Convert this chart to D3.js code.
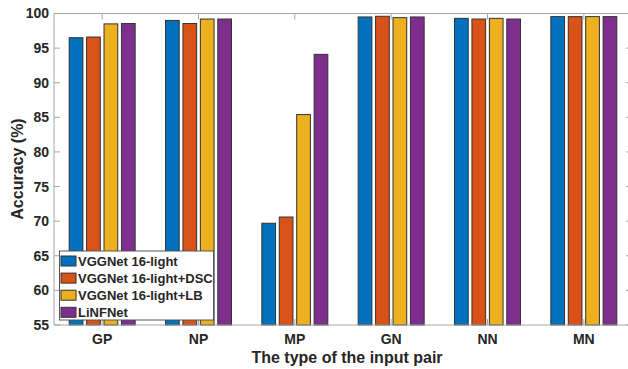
<!DOCTYPE html>
<html lang="en">
<head>
  <meta charset="UTF-8">
  <style>
    body { margin: 0; background: #fff; }
    text { font-family: Arial, "Liberation Sans", sans-serif; font-weight: bold; fill: #262626; }
    .axis-line { stroke: #a6a6a6; stroke-width: 1; fill: none; }
    .bar { stroke: #333; stroke-width: 1; }
  </style>
  <script src="https://d3js.org/d3.v7.min.js"></script>
</head>
<body>
<svg id="chart"></svg>
<script>

var categories = ['GP', 'NP', 'MP', 'GN', 'NN', 'MN'];
var seriesNames = ['VGGNet 16-light', 'VGGNet 16-light+DSC', 'VGGNet 16-light+LB', 'LiNFNet'];
var colors = ['#0072BD', '#D95319', '#EDB120', '#7E2F8E'];
var vggLight    = [96.5, 99.0, 69.7, 99.5, 99.3, 99.55];
var vggLightDsc = [96.6, 98.55, 70.6, 99.6, 99.2, 99.55];
var vggLightLb  = [98.5, 99.2, 85.4, 99.4, 99.3, 99.55];
var linfnet     = [98.55, 99.2, 94.1, 99.5, 99.2, 99.55];
var yTicks = [55, 60, 65, 70, 75, 80, 85, 90, 95, 100];

var series = [vggLight, vggLightDsc, vggLightLb, linfnet];

var size = {width: 628, height: 369};
var plot = {left: 54, right: 632, top: 13.5, bottom: 325};

var svg = d3.select('#chart')
  .attr('width', size.width)
  .attr('height', size.height);

var xScale = d3.scaleBand()
  .domain(categories)
  .range([plot.left, plot.right])
  .paddingInner(0.315)
  .paddingOuter(0.1575);

var xInner = d3.scaleBand()
  .domain(d3.range(series.length))
  .range([0, xScale.bandwidth()])
  .paddingInner(0.213);

var yScale = d3.scaleLinear()
  .domain([55, 100])
  .range([plot.bottom, plot.top]);

// bars
var groups = svg.selectAll('.group')
  .data(categories)
  .enter()
  .append('g')
  .attr('class', 'group')
  .attr('transform', function(d) {
    return 'translate(' + xScale(d) + ',0)';
  });

groups.selectAll('.bar')
  .data(function(d, i) {
    return series.map(function(s, k) { return {k: k, v: s[i]}; });
  })
  .enter()
  .append('rect')
  .attr('class', 'bar')
  .attr('x', function(d) { return xInner(d.k); })
  .attr('width', xInner.bandwidth())
  .attr('y', function(d) { return yScale(d.v); })
  .attr('height', function(d) { return yScale(55) - yScale(d.v); })
  .attr('fill', function(d) { return colors[d.k]; });

// box lines
svg.append('line').attr('class', 'axis-line')
  .attr('x1', plot.left).attr('x2', plot.right)
  .attr('y1', plot.top).attr('y2', plot.top);

var xAxis = d3.axisBottom(xScale).tickSize(0).tickPadding(9);
var gx = svg.append('g')
  .attr('transform', 'translate(0,' + plot.bottom + ')')
  .call(xAxis);
gx.select('.domain').remove();
gx.selectAll('text').style('font-size', '14px').attr('fill', '#262626');

var yAxis = d3.axisLeft(yScale).tickValues(yTicks).tickSize(0).tickPadding(5);
var gy = svg.append('g')
  .attr('transform', 'translate(' + plot.left + ',0)')
  .call(yAxis);
gy.select('.domain').remove();
gy.selectAll('text').style('font-size', '14px').attr('fill', '#262626');

// tick marks, inward like matlab
var tickG = svg.append('g');
tickG.selectAll('.yl').data(yTicks).enter().append('line')
  .attr('class', 'axis-line')
  .attr('x1', plot.left).attr('x2', plot.left + 6)
  .attr('y1', function(d) { return yScale(d); })
  .attr('y2', function(d) { return yScale(d); });
tickG.selectAll('.yr').data(yTicks).enter().append('line')
  .attr('class', 'axis-line')
  .attr('x1', plot.right).attr('x2', plot.right - 6)
  .attr('y1', function(d) { return yScale(d); })
  .attr('y2', function(d) { return yScale(d); });
tickG.selectAll('.xt').data(categories).enter().append('line')
  .attr('class', 'axis-line')
  .attr('x1', function(d) { return xScale(d) + xScale.bandwidth() / 2; })
  .attr('x2', function(d) { return xScale(d) + xScale.bandwidth() / 2; })
  .attr('y1', plot.top).attr('y2', plot.top + 6);
tickG.selectAll('.xb').data(categories).enter().append('line')
  .attr('class', 'axis-line')
  .attr('x1', function(d) { return xScale(d) + xScale.bandwidth() / 2; })
  .attr('x2', function(d) { return xScale(d) + xScale.bandwidth() / 2; })
  .attr('y1', plot.bottom).attr('y2', plot.bottom - 6);

svg.append('line').attr('class', 'axis-line')
  .attr('x1', plot.left).attr('x2', plot.right)
  .attr('y1', plot.bottom).attr('y2', plot.bottom);
svg.append('line').attr('class', 'axis-line')
  .attr('x1', plot.left).attr('x2', plot.left)
  .attr('y1', plot.top).attr('y2', plot.bottom);

// axis titles
svg.append('text')
  .attr('x', 347)
  .attr('y', 363)
  .attr('text-anchor', 'middle')
  .style('font-size', '16px')
  .text('The type of the input pair');

svg.append('text')
  .attr('transform', 'translate(23,169) rotate(-90)')
  .attr('text-anchor', 'middle')
  .style('font-size', '16px')
  .text('Accuracy (%)');

// legend
var legend = svg.append('g').attr('transform', 'translate(59.5,251)');
legend.append('rect')
  .attr('width', 154).attr('height', 69)
  .attr('fill', '#fff')
  .attr('stroke', '#555')
  .attr('stroke-width', 1);

var items = legend.selectAll('.item')
  .data(seriesNames)
  .enter()
  .append('g')
  .attr('class', 'item')
  .attr('transform', function(d, i) {
    return 'translate(0,' + (10 + i * 17.1) + ')';
  });

items.append('rect')
  .attr('x', 1.5).attr('y', -5)
  .attr('width', 15).attr('height', 10)
  .attr('stroke', '#333')
  .attr('stroke-width', 1)
  .attr('fill', function(d, i) { return colors[i]; });

items.append('text')
  .attr('x', 18.5)
  .attr('dy', '0.35em')
  .style('font-size', '13px')
  .text(function(d) { return d; });

</script>
</body>
</html>
